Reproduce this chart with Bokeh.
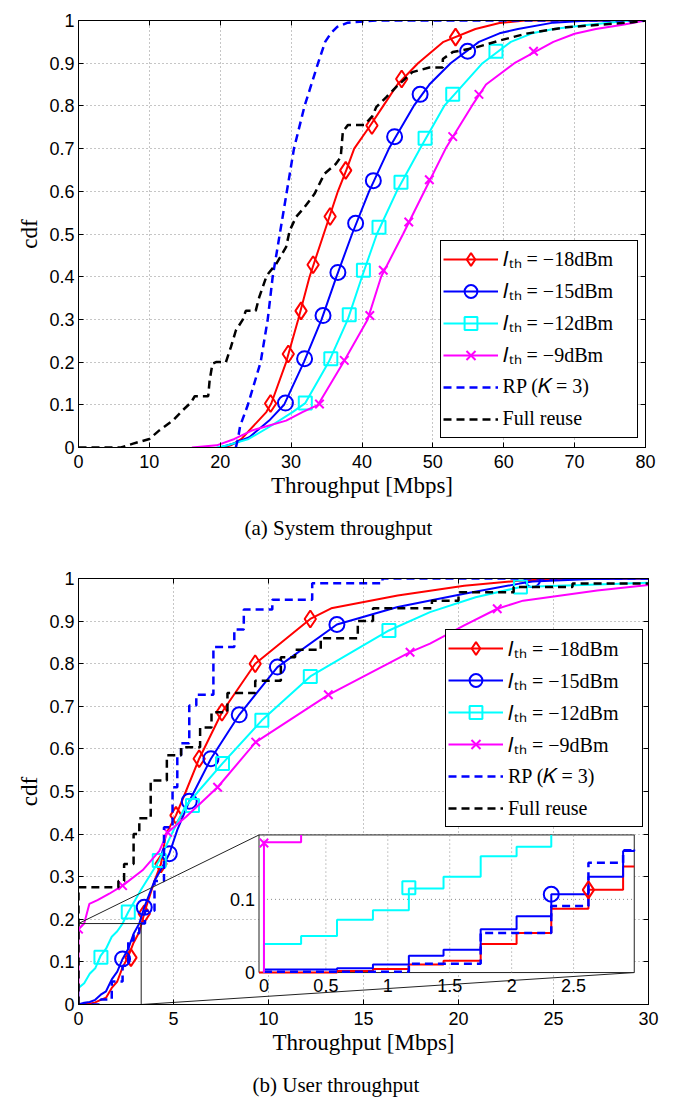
from bokeh.plotting import figure
from bokeh.models import (Range1d, LinearAxis, FixedTicker, NumeralTickFormatter,
                          Legend, LegendItem, Title)
from bokeh.layouts import column
from bokeh.embed import file_html
from bokeh.resources import INLINE
from bokeh.core.properties import value

# ---------------- labels / colours ----------------
LABELS = ["𝐼ₜₕ = −18dBm", "𝐼ₜₕ = −15dBm", "𝐼ₜₕ = −12dBm", "𝐼ₜₕ = −9dBm",
          "RP (𝐾 = 3)", "Full reuse"]
COLORS = ["#ff0000", "#0000ff", "#00ffff", "#ff00ff", "#0000ff", "#000000"]
X_TICKS_TOP = [0, 10, 20, 30, 40, 50, 60, 70, 80]
X_TICKS_BOT = [0, 5, 10, 15, 20, 25, 30]
Y_TICKS = [0, 0.1, 0.2, 0.3, 0.4, 0.5, 0.6, 0.7, 0.8, 0.9, 1]
INSET_X_TICKS = [0, 0.5, 1, 1.5, 2, 2.5]
INSET_Y_TICKS = [0, 0.1]

# ---------------- (a) system throughput ----------------
top_red_x = [20.5, 21.5, 23.0, 24.1, 26.5, 27.2, 29.3, 31.0, 32.6, 34.6, 36.6, 37.8, 38.9,
             41.0, 43.0, 45.0, 47.9, 51.5, 56.0, 59.4, 63.0, 80.0]
top_red_cdf = [0.0, 0.005, 0.02, 0.04, 0.083, 0.103, 0.2, 0.3, 0.4, 0.5, 0.6, 0.65, 0.7,
               0.75, 0.8, 0.85, 0.9, 0.95, 0.98, 0.994, 1.0, 1.0]
top_red_mx = [27.1, 29.6, 31.4, 33.1, 35.5, 37.7, 41.4, 45.6, 53.2]
top_red_my = [0.103, 0.219, 0.32, 0.428, 0.541, 0.649, 0.754, 0.863, 0.961]

top_blue_x = [20.0, 22.0, 24.1, 26.9, 29.0, 31.8, 34.3, 36.4, 38.6, 41.0, 43.8, 47.3, 49.5,
              52.5, 56.5, 59.4, 62.0, 67.0, 72.0, 80.0]
top_blue_cdf = [0.0, 0.01, 0.024, 0.063, 0.1, 0.2, 0.3, 0.4, 0.5, 0.6, 0.7, 0.8, 0.85,
                0.9, 0.95, 0.97, 0.98, 0.995, 1.0, 1.0]
top_blue_mx = [29.2, 31.9, 34.5, 36.6, 39.1, 41.6, 44.6, 48.2, 54.9]
top_blue_my = [0.104, 0.208, 0.309, 0.41, 0.525, 0.625, 0.728, 0.827, 0.928]

top_cyan_x = [19.5, 21.0, 24.0, 26.9, 30.2, 32.0, 35.3, 38.0, 40.0, 42.1, 44.9, 48.2, 51.6,
              57.0, 61.0, 64.0, 67.0, 72.0, 78.0, 80.0]
top_cyan_cdf = [0.0, 0.005, 0.02, 0.048, 0.083, 0.104, 0.2, 0.3, 0.4, 0.5, 0.6, 0.7, 0.8,
                0.9, 0.95, 0.97, 0.98, 0.99, 1.0, 1.0]
top_cyan_mx = [32.0, 35.6, 38.2, 40.2, 42.4, 45.5, 48.9, 52.8, 58.9]
top_cyan_my = [0.104, 0.208, 0.311, 0.415, 0.516, 0.621, 0.724, 0.827, 0.928]

top_mag_x = [16.0, 19.5, 22.0, 24.5, 29.3, 31.6, 33.8, 37.4, 40.8, 42.7, 45.8, 48.8, 51.8,
             55.5, 57.5, 61.5, 67.0, 70.0, 73.0, 76.8, 80.0]
top_mag_cdf = [0.0, 0.005, 0.02, 0.04, 0.063, 0.083, 0.1, 0.2, 0.3, 0.4, 0.5, 0.6, 0.7,
               0.8, 0.85, 0.9, 0.95, 0.969, 0.98, 0.99, 1.0]
top_mag_mx = [34.0, 37.5, 41.1, 43.0, 46.6, 49.5, 52.8, 56.5, 64.2]
top_mag_my = [0.102, 0.204, 0.309, 0.415, 0.528, 0.627, 0.728, 0.827, 0.928]

top_rp_x = [22.2, 22.5, 22.8, 23.9, 25.7, 26.7, 27.4, 28.4, 29.4, 30.4, 31.9, 33.8, 34.8,
            35.6, 36.5, 38.0, 42.0, 80.0]
top_rp_cdf = [0.0, 0.02, 0.05, 0.1, 0.2, 0.3, 0.4, 0.5, 0.6, 0.7, 0.8, 0.9, 0.95,
              0.97, 0.985, 0.995, 1.0, 1.0]

top_full_x = [0, 6, 7.7, 10, 11.4, 13.3, 14.7, 15.9, 16.4, 18.3, 18.5, 18.9, 19.4, 20.8,
              21.5, 22.2, 23.2, 23.6, 25.0, 25.5, 26.5, 26.9, 27.9, 29.3, 29.8, 30.7, 31.9,
              33.3, 34.7, 36.3, 37.0, 37.3, 38.0, 40.3, 41.5, 42.0, 43.4, 44.8, 47.1, 49.5,
              51.4, 51.4, 52.8, 56.1, 59.4, 63.1, 68.8, 73.5, 78.2, 80]
top_full_cdf = [0, 0, 0.009, 0.02, 0.04, 0.063, 0.087, 0.106, 0.12, 0.12, 0.157, 0.196, 0.2,
                0.2, 0.235, 0.274, 0.30, 0.32, 0.32, 0.352, 0.40, 0.41, 0.43, 0.47, 0.508,
                0.54, 0.563, 0.594, 0.641, 0.664, 0.68, 0.74, 0.755, 0.755, 0.777, 0.797,
                0.82, 0.844, 0.879, 0.89, 0.89, 0.91, 0.926, 0.937, 0.953, 0.969, 0.984,
                0.99, 0.996, 1.0]

# ---------------- (b) user throughput ----------------
bot_red_x = [0, 0.59, 0.88, 1.17, 1.45, 1.75, 2.04, 2.32, 2.62, 2.9, 3.2, 3.5, 4.0, 4.34,
             4.6, 5.13, 5.65, 6.35, 7.55, 9.3, 12.2, 13.3, 16.8, 20.3, 23.2, 25.0, 30.0]
bot_red_cdf = [0, 0.002, 0.005, 0.011, 0.016, 0.039, 0.054, 0.087, 0.113, 0.145, 0.17, 0.22,
               0.29, 0.33, 0.40, 0.444, 0.5, 0.577, 0.686, 0.80, 0.905, 0.93, 0.96, 0.983,
               0.995, 0.999, 1.0]
bot_red_mx = [2.76, 3.46, 4.34, 5.13, 6.35, 7.55, 9.3, 12.2]
bot_red_my = [0.11, 0.213, 0.33, 0.444, 0.577, 0.686, 0.80, 0.905]

bot_blue_x = [0, 0.3, 0.59, 0.88, 1.17, 1.45, 1.75, 2.04, 2.32, 2.62, 2.9, 3.2, 3.46, 4.0,
              4.5, 4.78, 5.2, 5.83, 6.97, 8.46, 10.47, 13.6, 16.8, 20.3, 23.2, 23.9, 27.0,
              30.0]
bot_blue_cdf = [0, 0.004, 0.006, 0.011, 0.023, 0.031, 0.059, 0.077, 0.107, 0.131, 0.166,
                0.19, 0.228, 0.29, 0.33, 0.354, 0.41, 0.477, 0.577, 0.68, 0.792, 0.892,
                0.933, 0.964, 0.988, 0.993, 0.999, 1.0]
bot_blue_mx = [2.32, 3.46, 4.78, 5.83, 6.97, 8.46, 10.47, 13.6, 23.9]
bot_blue_my = [0.107, 0.228, 0.354, 0.477, 0.577, 0.68, 0.792, 0.892, 0.997]

bot_cyan_x = [0, 0, 0.3, 0.59, 0.88, 1.17, 1.45, 1.75, 2.04, 2.32, 2.62, 3.3, 4.25, 4.9,
              5.6, 6.3, 7.58, 9.65, 12.2, 16.34, 18.5, 20.9, 23.26, 27.3, 30.0]
bot_cyan_cdf = [0, 0.039, 0.05, 0.072, 0.085, 0.115, 0.131, 0.159, 0.172, 0.19, 0.217, 0.27,
                0.338, 0.40, 0.463, 0.5, 0.566, 0.667, 0.77, 0.878, 0.921, 0.956, 0.98,
                0.986, 0.99]
bot_cyan_mx = [1.18, 2.62, 4.25, 6.0, 7.58, 9.65, 12.2, 16.34, 23.26]
bot_cyan_my = [0.111, 0.217, 0.338, 0.467, 0.566, 0.667, 0.77, 0.878, 0.98]

bot_mag_x = [0, 0, 0.3, 0.57, 1.0, 1.62, 2.32, 3.37, 4.25, 4.69, 5.65, 7.32, 9.33, 13.15,
             17.45, 18.5, 20.3, 22.04, 23.4, 27.3, 30.0]
bot_mag_cdf = [0, 0.177, 0.19, 0.236, 0.245, 0.26, 0.279, 0.315, 0.36, 0.404, 0.44, 0.51,
               0.616, 0.727, 0.827, 0.847, 0.89, 0.929, 0.948, 0.972, 0.985]
bot_mag_mx = [0, 2.32, 4.69, 7.32, 9.33, 13.15, 17.45, 22.04]
bot_mag_my = [0.177, 0.279, 0.404, 0.51, 0.616, 0.727, 0.827, 0.929]

bot_rp_x = [0, 1.17, 1.75, 2.32, 2.62, 2.9, 3.2, 3.5, 4.0, 4.5, 4.95, 5.2, 5.4, 5.83, 6.2,
            7.1, 8.2, 8.7, 10.2, 12.3, 16.0, 30.0]
bot_rp_cdf = [0, 0.012, 0.054, 0.091, 0.15, 0.167, 0.19, 0.22, 0.29, 0.416, 0.51, 0.585,
              0.613, 0.702, 0.727, 0.839, 0.88, 0.927, 0.95, 0.989, 1.0, 1.0]

bot_full_x = [0, 0, 2.1, 2.4, 2.9, 3.2, 3.8, 4.65, 5.4, 6.4, 7.0, 7.84, 9.3, 10.65, 11.4,
              12.75, 14.7, 15.5, 18.6, 20.0, 22.9, 26.0, 30.0]
bot_full_cdf = [0, 0.275, 0.29, 0.33, 0.40, 0.437, 0.526, 0.585, 0.604, 0.65, 0.686, 0.731,
                0.76, 0.815, 0.833, 0.86, 0.90, 0.93, 0.948, 0.968, 0.98, 0.988, 0.99]

# ---------------- inset (zoom of user throughput) ----------------
ins_red_x = [-0.04, 0.59, 0.88, 1.17, 1.45, 1.75, 2.04, 2.32, 2.62, 2.9, 2.99]
ins_red_cdf = [0.0, 0.002, 0.005, 0.011, 0.016, 0.039, 0.054, 0.087, 0.113, 0.145, 0.145]
ins_blue_x = [0, 0, 0.59, 0.88, 1.17, 1.45, 1.75, 2.04, 2.32, 2.62, 2.9, 2.99]
ins_blue_cdf = [0, 0.004, 0.006, 0.011, 0.023, 0.031, 0.059, 0.077, 0.107, 0.131, 0.166, 0.168]
ins_cyan_x = [0, 0, 0.3, 0.59, 0.88, 1.17, 1.45, 1.75, 2.04, 2.32]
ins_cyan_cdf = [0, 0.039, 0.05, 0.072, 0.085, 0.115, 0.131, 0.159, 0.172, 0.188]
ins_mag_x = [0, 0, 0.3]
ins_mag_cdf = [0, 0.178, 0.188]
ins_rp_x = [0, 1.17, 1.75, 2.32, 2.62, 2.9, 2.99]
ins_rp_cdf = [0.001, 0.012, 0.054, 0.091, 0.15, 0.167, 0.167]
ins_marker_x = [2.62, 2.32, 1.17, 0]
ins_marker_y = [0.113, 0.107, 0.116, 0.177]

# inset window (inset data units) and where it sits (main data units)
IN_X = (-0.04, 2.99)
IN_Y = (0.0, 0.188)
BOX_X = (9.5, 29.25)
BOX_Y = (0.075, 0.398)
ZOOM_X = (0.0, 3.3)
ZOOM_Y = (0.0, 0.19)

SANS = "Liberation Sans"
SERIF = "Liberation Serif"
MARKERS = [("diamond", 17), ("circle", 15), ("square", 13), ("x", 12)]


def make_fig(xmax, xticks, fw, fh, mbl, mbr, mbt, mbb):
    p = figure(frame_width=fw, frame_height=fh, x_range=Range1d(0, xmax),
               y_range=Range1d(0, 1), output_backend="svg", toolbar_location=None,
               min_border_left=mbl, min_border_right=mbr, min_border_top=mbt,
               min_border_bottom=mbb, background_fill_color="white",
               border_fill_color="white")
    p.outline_line_color = "black"
    p.outline_line_width = 1
    p.xaxis.ticker = FixedTicker(ticks=xticks)
    p.yaxis.ticker = FixedTicker(ticks=Y_TICKS)
    p.yaxis.formatter = NumeralTickFormatter(format="0.[0]")
    for ax in list(p.xaxis) + list(p.yaxis):
        ax.major_tick_in = 5
        ax.major_tick_out = 0
        ax.minor_tick_in = 0
        ax.minor_tick_out = 0
        ax.major_label_text_font = SANS
        ax.major_label_text_font_size = "18px"
        ax.major_label_text_color = "black"
        ax.axis_label_text_font = SERIF
        ax.axis_label_text_font_size = "23px"
        ax.axis_label_text_font_style = "normal"
        ax.axis_label_text_color = "black"
        ax.axis_line_color = "black"
        ax.major_tick_line_color = "black"
    p.xaxis.major_label_standoff = 7
    p.yaxis.major_label_standoff = 4
    p.xaxis.axis_label_standoff = 2
    p.yaxis.axis_label_standoff = 4
    p.xaxis.axis_label = "Throughput [Mbps]"
    p.yaxis.axis_label = "cdf"
    p.xgrid.ticker = FixedTicker(ticks=xticks)
    p.ygrid.ticker = FixedTicker(ticks=Y_TICKS)
    for g in (p.xgrid[0], p.ygrid[0]):
        g.grid_line_color = "#8c8c8c"
        g.grid_line_dash = "1 3"
        g.grid_line_width = 1
    # mirrored tick marks (no labels drawn)
    for ticks, side in ((xticks, "above"), (Y_TICKS, "right")):
        ax = LinearAxis(ticker=FixedTicker(ticks=ticks), major_label_text_color=None,
                        major_label_text_alpha=0, major_label_text_font_size="1px",
                        major_tick_in=5, major_tick_out=0, minor_tick_in=0, minor_tick_out=0,
                        major_label_standoff=0, axis_line_color="black",
                        major_tick_line_color="black")
        p.add_layout(ax, side)
    return p


def add_series(p, series, markers, step_main):
    items = []
    for i, (x, y) in enumerate(series):
        dash = "solid" if i < 4 else "8 5"
        lw = 2 if i < 4 else 2.5
        if i >= 4 and step_main:
            r = p.step(x, y, mode="after", line_color=COLORS[i], line_width=lw, line_dash=dash)
        else:
            r = p.line(x, y, line_color=COLORS[i], line_width=lw, line_dash=dash)
        rs = [r]
        if i < 4:
            mx, my = markers[i]
            m, s = MARKERS[i]
            rm = p.scatter(mx, my, marker=m, size=s, fill_color=None,
                           line_color=COLORS[i], line_width=2)
            rs.append(rm)
        items.append(LegendItem(label=LABELS[i], renderers=rs))
    return items


def add_legend(p, items, loc):
    leg = Legend(items=items, location=loc, margin=0, padding=2, spacing=0,
                 glyph_width=55, glyph_height=32, label_height=32, label_width=132,
                 label_standoff=5, label_text_font=SERIF, label_text_font_size="20px",
                 label_text_color="black", border_line_color="black", border_line_width=1,
                 border_line_alpha=1, background_fill_color="white", background_fill_alpha=1)
    p.add_layout(leg)


# ---------------- top figure ----------------
p1 = make_fig(80, X_TICKS_TOP, 567, 427, 76, 22, 20, 110)
items1 = add_series(
    p1,
    [(top_red_x, top_red_cdf), (top_blue_x, top_blue_cdf), (top_cyan_x, top_cyan_cdf),
     (top_mag_x, top_mag_cdf), (top_rp_x, top_rp_cdf), (top_full_x, top_full_cdf)],
    [(top_red_mx, top_red_my), (top_blue_mx, top_blue_my), (top_cyan_mx, top_cyan_my),
     (top_mag_mx, top_mag_my)],
    step_main=False)
add_legend(p1, items1, (361.6, 9.3))
p1.add_layout(Title(text="(a) System throughput", align="left", offset=166,
                    text_font=SERIF, text_font_size="21px", text_font_style="normal",
                    text_color="black", standoff=26), "below")

# ---------------- bottom figure ----------------
p2 = make_fig(30, X_TICKS_BOT, 570, 426, 78, 17, 21, 100)
items2 = add_series(
    p2,
    [(bot_red_x, bot_red_cdf), (bot_blue_x, bot_blue_cdf), (bot_cyan_x, bot_cyan_cdf),
     (bot_mag_x, bot_mag_cdf), (bot_rp_x, bot_rp_cdf), (bot_full_x, bot_full_cdf)],
    [(bot_red_mx, bot_red_my), (bot_blue_mx, bot_blue_my), (bot_cyan_mx, bot_cyan_my),
     (bot_mag_mx, bot_mag_my)],
    step_main=True)
add_legend(p2, items2, (367, 177))
p2.add_layout(Title(text="(b) User throughput", align="left", offset=174,
                    text_font=SERIF, text_font_size="21px", text_font_style="normal",
                    text_color="black", standoff=26), "below")

# zoom rectangle and connectors (main coordinates)
p2.quad(left=[ZOOM_X[0]], right=[ZOOM_X[1]], bottom=[ZOOM_Y[0]], top=[ZOOM_Y[1]],
        fill_color=None, line_color="#222222", line_width=1)
p2.segment(x0=[ZOOM_X[0], ZOOM_X[1]], y0=[ZOOM_Y[1], ZOOM_Y[0]],
           x1=[BOX_X[0], BOX_X[1]], y1=[BOX_Y[1], BOX_Y[0]],
           line_color="#222222", line_width=1)


# inset ranges: map inset window onto BOX in main coordinates
def inset_range(lo, hi, box, win):
    s = (win[1] - win[0]) / (box[1] - box[0])
    return Range1d(win[0] + (lo - box[0]) * s, win[0] + (hi - box[0]) * s)


p2.extra_x_ranges = {"inx": inset_range(0, 30, BOX_X, IN_X)}
p2.extra_y_ranges = {"iny": inset_range(0, 1, BOX_Y, IN_Y)}
IR = dict(x_range_name="inx", y_range_name="iny")

p2.quad(left=[IN_X[0]], right=[IN_X[1]], bottom=[IN_Y[0]], top=[IN_Y[1]],
        fill_color="white", line_color="#222222", line_width=1, **IR)
gx = [t for t in INSET_X_TICKS if t > IN_X[0]]
p2.segment(x0=gx, x1=gx, y0=[IN_Y[0]] * len(gx), y1=[IN_Y[1]] * len(gx),
           line_color="#8c8c8c", line_dash="1 3", line_width=1, **IR)
gy = [t for t in INSET_Y_TICKS if t > IN_Y[0]]
p2.segment(x0=[IN_X[0]] * len(gy), x1=[IN_X[1]] * len(gy), y0=gy, y1=gy,
           line_color="#8c8c8c", line_dash="1 3", line_width=1, **IR)

p2.step(ins_red_x, ins_red_cdf, mode="after", line_color=COLORS[0], line_width=2, **IR)
p2.step(ins_rp_x, ins_rp_cdf, mode="after", line_color=COLORS[4], line_width=2.5,
        line_dash="8 5", **IR)
p2.step(ins_blue_x, ins_blue_cdf, mode="after", line_color=COLORS[1], line_width=2, **IR)
p2.step(ins_cyan_x, ins_cyan_cdf, mode="after", line_color=COLORS[2], line_width=2, **IR)
p2.step(ins_mag_x, ins_mag_cdf, mode="after", line_color=COLORS[3], line_width=2, **IR)
for i in range(4):
    m, s = MARKERS[i]
    p2.scatter([ins_marker_x[i]], [ins_marker_y[i]], marker=m, size=s, fill_color=None,
               line_color=COLORS[i], line_width=2, **IR)

p2.text(x=INSET_X_TICKS, y=[IN_Y[0]] * len(INSET_X_TICKS),
        text=["%g" % t for t in INSET_X_TICKS], text_align="center", text_baseline="top",
        y_offset=6, text_font=value(SANS), text_font_size=value("18px"),
        text_color="black", **IR)
p2.text(x=[IN_X[0]] * len(INSET_Y_TICKS), y=INSET_Y_TICKS,
        text=["%g" % t for t in INSET_Y_TICKS], text_align="right", text_baseline="middle",
        x_offset=-4, text_font=value(SANS), text_font_size=value("18px"),
        text_color="black", **IR)

layout = column(p1, p2)
open("out.html", "w").write(file_html(layout, INLINE))
